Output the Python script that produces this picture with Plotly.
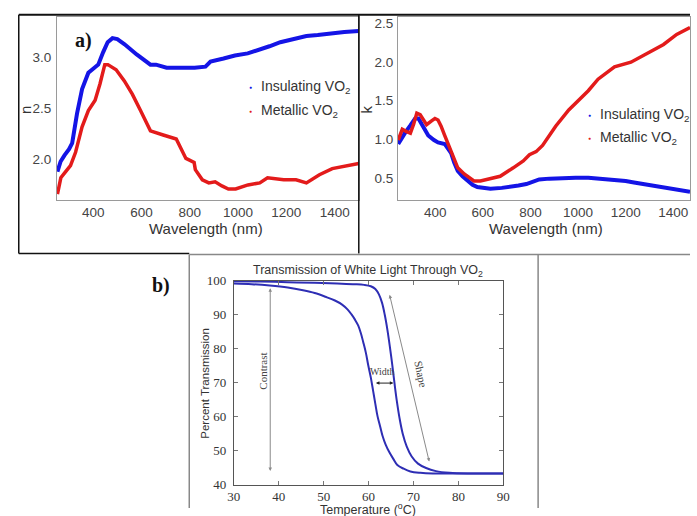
import plotly.graph_objects as go

W, H = 697, 516

# ---------------- data: refractive index n ----------------
n_wl_ins = [252, 265, 281, 300, 313, 333, 354, 380, 405, 421, 441, 460, 480, 500, 530, 580,
            637, 660, 704, 760, 820, 865, 886, 940, 987, 1040, 1081, 1130, 1175, 1230, 1283,
            1330, 1390, 1440, 1500]
n_ins = [1.88, 1.98, 2.04, 2.10, 2.16, 2.45, 2.69, 2.85, 2.90, 2.93, 3.05, 3.15, 3.19, 3.18,
         3.13, 3.03, 2.93, 2.93, 2.90, 2.90, 2.90, 2.91, 2.96, 2.99, 3.02, 3.04, 3.07, 3.11,
         3.15, 3.18, 3.21, 3.22, 3.24, 3.25, 3.26]

n_wl_met = [252, 258, 266, 286, 306, 327, 354, 380, 408, 428, 448, 461, 495, 529, 562, 596,
            637, 690, 744, 784, 818, 823, 852, 879, 905, 933, 960, 990, 1041, 1090, 1122,
            1189, 1240, 1283, 1337, 1390, 1440, 1500]
n_met = [1.66, 1.75, 1.82, 1.88, 1.94, 2.07, 2.32, 2.48, 2.58, 2.74, 2.93, 2.93, 2.88, 2.77,
         2.64, 2.48, 2.28, 2.24, 2.20, 2.01, 1.97, 1.90, 1.80, 1.77, 1.78, 1.74, 1.71, 1.71,
         1.75, 1.77, 1.82, 1.80, 1.80, 1.77, 1.85, 1.91, 1.93, 1.96]

# ---------------- data: extinction coefficient k ----------------
k_wl_ins = [245, 260, 275, 296, 316, 330, 350, 371, 395, 412, 440, 455, 467, 480, 495, 515,
            536, 557, 577, 600, 632, 680, 714, 750, 783, 810, 837, 880, 934, 990, 1043, 1100,
            1153, 1200, 1235, 1290, 1345, 1390, 1428, 1470]
k_ins = [0.94, 1.02, 1.09, 1.18, 1.27, 1.27, 1.15, 1.05, 0.99, 0.96, 0.94, 0.88, 0.82, 0.70,
         0.59, 0.52, 0.46, 0.41, 0.38, 0.37, 0.36, 0.37, 0.38, 0.40, 0.42, 0.45, 0.48, 0.49,
         0.50, 0.50, 0.50, 0.49, 0.48, 0.46, 0.44, 0.41, 0.38, 0.36, 0.34, 0.32]

k_wl_met = [245, 262, 280, 296, 310, 323, 337, 364, 385, 399, 412, 425, 440, 467, 495, 522,
            563, 590, 618, 673, 728, 770, 796, 824, 851, 865, 906, 961, 1016, 1043, 1084,
            1120, 1153, 1222, 1290, 1359, 1414, 1470]
k_met = [0.99, 1.13, 1.10, 1.08, 1.20, 1.34, 1.32, 1.19, 1.24, 1.27, 1.25, 1.17, 1.05, 0.84,
         0.63, 0.55, 0.46, 0.46, 0.48, 0.52, 0.63, 0.72, 0.80, 0.84, 0.92, 0.98, 1.17, 1.38,
         1.55, 1.63, 1.78, 1.86, 1.94, 2.00, 2.11, 2.23, 2.36, 2.45]

# ---------------- data: transmission hysteresis ----------------
T_heat = [30, 36, 42, 48, 53, 57, 59, 60.5, 61.5, 62.3, 63, 63.6, 64.2, 64.8, 65.3, 65.8,
          66.3, 66.9, 67.6, 68.5, 69.6, 71, 72.8, 75, 78, 82, 86, 90]
Tr_heat = [99.9, 99.8, 99.6, 99.4, 99.2, 99.0, 98.8, 98.4, 97.6, 96.0, 93.5, 90.0, 85.5,
           80.0, 75.0, 69.5, 64.5, 59.5, 55.0, 51.2, 48.3, 46.2, 44.9, 44.0, 43.5, 43.3,
           43.3, 43.3]
T_cool = [30, 34, 38, 42, 45.4, 48, 50.4, 52.5, 54.1, 55.3, 56.2, 57, 57.7, 58.3, 58.8, 59.4,
          59.9, 60.5, 61, 61.5, 62, 62.6, 63.1, 63.8, 64.6, 65.5, 66.4, 67.8, 69.3, 71.5,
          74.3, 78, 84, 90]
Tr_cool = [99.2, 99.0, 98.6, 98.0, 97.2, 96.4, 95.3, 94.2, 93.0, 91.6, 90.1, 88.5, 86.8,
           84.5, 82.0, 78.8, 75.3, 71.5, 67.7, 63.8, 60.1, 57.0, 54.4, 51.8, 49.6, 47.6,
           45.8, 44.7, 43.9, 43.5, 43.3, 43.3, 43.3, 43.3]

n_ticks = [2.0, 2.5, 3.0]
k_ticks = [0.5, 1.0, 1.5, 2.0, 2.5]
wl_ticks = [400, 600, 800, 1000, 1200, 1400]
T_ticks = [30, 40, 50, 60, 70, 80, 90]
Tr_ticks = [40, 50, 60, 70, 80, 90, 100]

BLUE = "#1414e6"
RED = "#e31b1b"
CURVE_B = "#2e2eb4"
SANS = "Liberation Sans, Arial, sans-serif"
SERIF = "Liberation Serif, Times New Roman, serif"


def px(x):
    return x / W


def py(y):
    return 1 - y / H


fig = go.Figure()
fig.add_trace(go.Scatter(x=n_wl_ins, y=n_ins, mode="lines", line=dict(color=BLUE, width=4),
                         xaxis="x", yaxis="y", showlegend=False))
fig.add_trace(go.Scatter(x=n_wl_met, y=n_met, mode="lines", line=dict(color=RED, width=3.5),
                         xaxis="x", yaxis="y", showlegend=False))
fig.add_trace(go.Scatter(x=k_wl_ins, y=k_ins, mode="lines", line=dict(color=BLUE, width=4),
                         xaxis="x2", yaxis="y2", showlegend=False))
fig.add_trace(go.Scatter(x=k_wl_met, y=k_met, mode="lines", line=dict(color=RED, width=3.5),
                         xaxis="x2", yaxis="y2", showlegend=False))
fig.add_trace(go.Scatter(x=T_heat, y=Tr_heat, mode="lines", line=dict(color=CURVE_B, width=2),
                         line_shape="spline", xaxis="x3", yaxis="y3", showlegend=False))
fig.add_trace(go.Scatter(x=T_cool, y=Tr_cool, mode="lines", line=dict(color=CURVE_B, width=2),
                         line_shape="spline", xaxis="x3", yaxis="y3", showlegend=False))

axa = dict(showgrid=False, zeroline=False, showline=True, linecolor="#9a9a9a", linewidth=1,
           mirror=True, ticks="", tickfont=dict(family=SANS, size=13.5, color="#444"))
fig.update_layout(
    xaxis=dict(axa, domain=[px(51), px(359)], range=[250, 1500], tickvals=wl_ticks,
               anchor="y", ticklabelstandoff=0),
    yaxis=dict(axa, domain=[py(199), py(10)], range=[1.6, 3.4], tickvals=n_ticks,
               ticktext=[f"{v:.1f}" for v in n_ticks], anchor="x", ticklabelstandoff=2),
    xaxis2=dict(axa, domain=[px(399), 1.0], range=[244, 1470], tickvals=wl_ticks,
                anchor="y2", ticklabelstandoff=0),
    yaxis2=dict(axa, domain=[py(199), py(10)], range=[0.21, 2.59], tickvals=k_ticks,
                ticktext=[f"{v:.1f}" for v in k_ticks], anchor="x2", ticklabelstandoff=1),
)
axb = dict(showgrid=False, zeroline=False, showline=True, linecolor="#555", linewidth=1,
           mirror="allticks", ticks="inside", ticklen=4, tickcolor="#777",
           tickfont=dict(family=SERIF, size=13, color="#333"))
fig.update_layout(
    xaxis3=dict(axb, domain=[px(231.5), px(506.5)], range=[30, 90], tickvals=T_ticks,
                anchor="y3", ticklabelstandoff=0),
    yaxis3=dict(axb, domain=[py(492), py(282)], range=[40, 100], tickvals=Tr_ticks,
                anchor="x3", ticklabelstandoff=4),
)

ann = []


def text(x, y, t, size, family=SANS, color="#333", angle=0, xanchor="center", **kw):
    ann.append(dict(x=px(x), y=py(y), xref="paper", yref="paper", text=t, showarrow=False,
                    font=dict(family=family, size=size, color=color), textangle=angle,
                    xanchor=xanchor, yanchor="middle", **kw))


# axis titles
text(203, 228.5, "Wavelength (nm)", 15)
text(550, 228.5, "Wavelength (nm)", 15)
text(19.5, 106, "n", 15, angle=-90)
text(367, 106, "k", 15, angle=-90)
text(202, 387, "Percent Transmission", 11.5, angle=-90)
text(368, 517, "Temperature (<sup>o</sup>C)", 12.5)
text(368, 272, "Transmission of White Light Through VO<sub>2</sub>", 12.5)

# panel labels
text(78.5, 35, "<b>a)</b>", 20, family=SERIF, color="#111")
text(157, 287, "<b>b)</b>", 20, family=SERIF, color="#111")

# legends
for (dx, dy, col, lab) in [(248, 82, BLUE, "Insulating VO<sub>2</sub>"),
                           (248, 107, RED, "Metallic VO<sub>2</sub>"),
                           (594, 111, BLUE, "Insulating VO<sub>2</sub>"),
                           (594, 135, RED, "Metallic VO<sub>2</sub>")]:
    text(dx, dy, "●", 5, color=col)
    text(dx + 9, dy, lab, 14, xanchor="left")

# panel b annotations
GRAY = "#8a8a8a"


def arrow(x0, y0, x1, y1, color):
    ann.append(dict(x=x1, y=y1, ax=x0, ay=y0, xref="x3", yref="y3", axref="x3", ayref="y3",
                    text="", showarrow=True, arrowhead=2, startarrowhead=2,
                    arrowside="end+start", arrowsize=0.7, startarrowsize=0.7, arrowwidth=1,
                    arrowcolor=color, standoff=0, startstandoff=0))


arrow(38.1, 43.6, 38.1, 97.8, GRAY)
arrow(61.3, 69.9, 65.5, 69.9, "#222")
arrow(64.6, 96.3, 73.5, 46.8, GRAY)
ann.append(dict(x=36.6, y=73.4, xref="x3", yref="y3", text="Contrast", showarrow=False,
                textangle=-90, font=dict(family=SERIF, size=11, color="#444")))
ann.append(dict(x=63.0, y=73.2, xref="x3", yref="y3", text="Width", showarrow=False,
                font=dict(family=SERIF, size=10, color="#444")))
ann.append(dict(x=71.6, y=72.5, xref="x3", yref="y3", text="Shape", showarrow=False,
                textangle=78, font=dict(family=SERIF, size=11, color="#444")))

# frame lines
shapes = []


def seg(x0, y0, x1, y1, color, width):
    shapes.append(dict(type="line", xref="paper", yref="paper", x0=px(x0), y0=py(y0),
                       x1=px(x1), y1=py(y1), line=dict(color=color, width=width)))


seg(12, 8, 697, 8, "#111", 2)
seg(12, 8, 12, 254, "#111", 1.5)
seg(12, 254, 186, 254, "#111", 1.5)
seg(359, 8, 359, 254, "#111", 1.5)
seg(186, 255, 697, 255, "#888", 1.5)
seg(186, 255, 186, 516, "#888", 1.5)
seg(542, 255, 542, 516, "#888", 1.5)

fig.update_layout(width=W, height=H, margin=dict(l=0, r=0, t=0, b=0),
                  paper_bgcolor="white", plot_bgcolor="white",
                  annotations=ann, shapes=shapes, showlegend=False)

fig.write_html("out.html")
